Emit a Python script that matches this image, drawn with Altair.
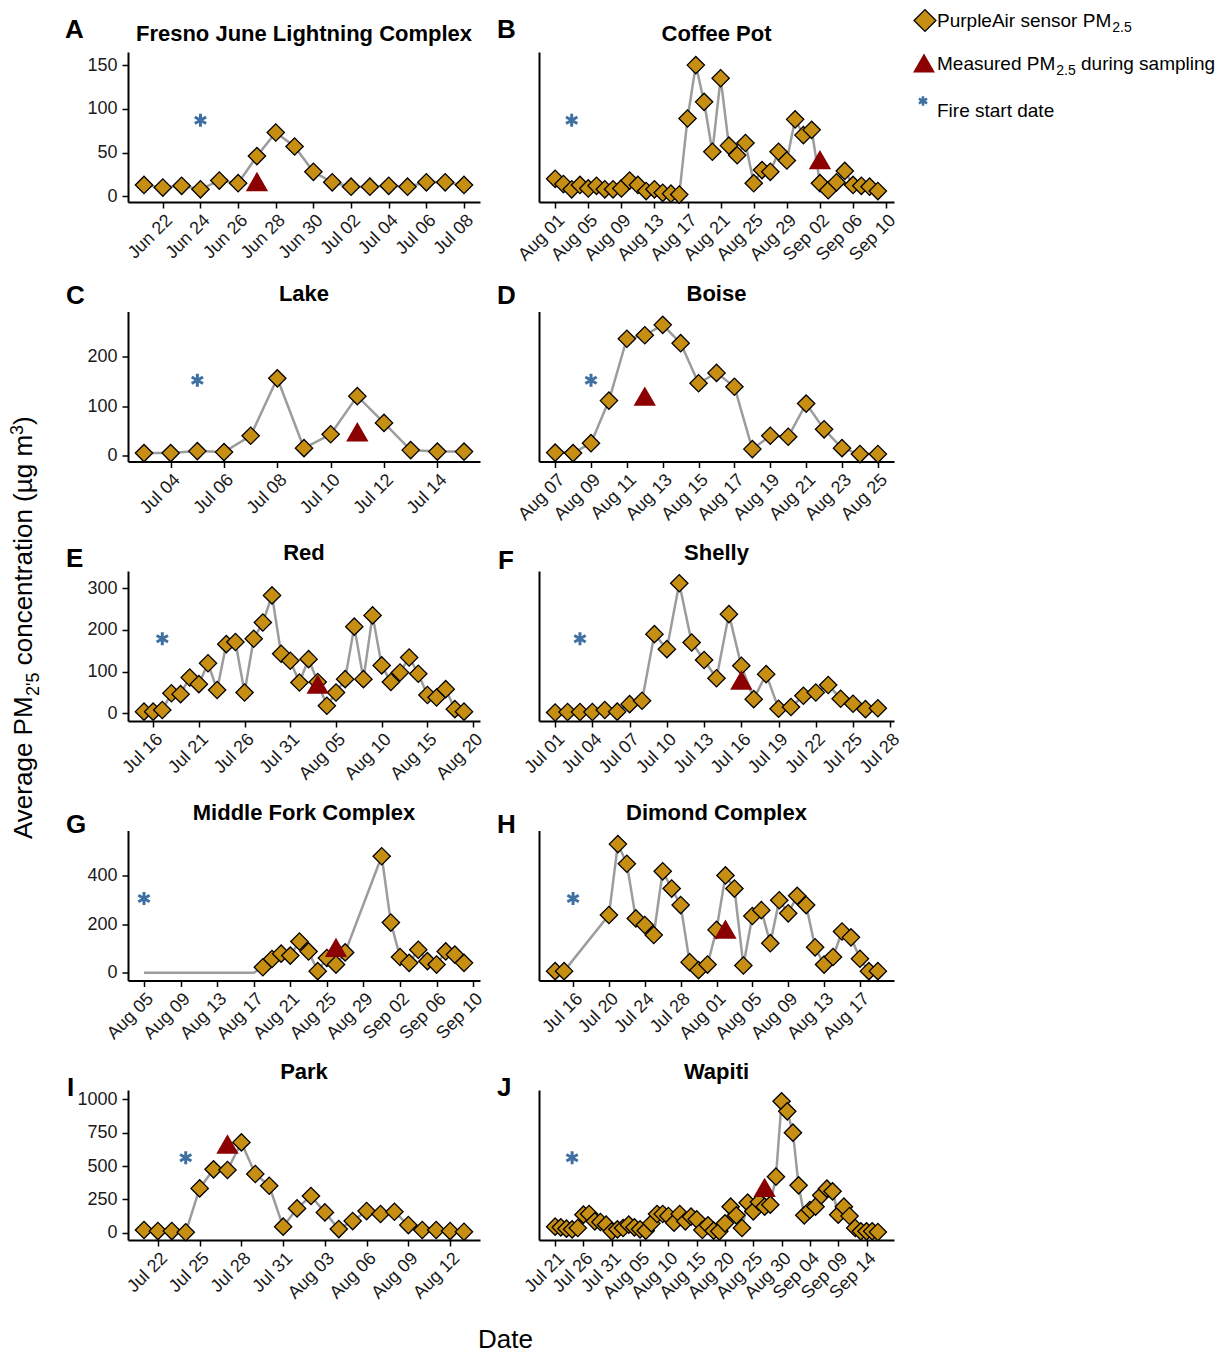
import altair as alt
import pandas as pd

FONT = "Liberation Sans"
GOLD = "#C68E12"
RED = "#8B0000"
BLUE = "#3F70A1"
GREY = "#9C9C9C"

# ---------------- data ----------------
titles = ["Fresno June Lightning Complex", "Coffee Pot", "Lake", "Boise", "Red",
          "Shelly", "Middle Fork Complex", "Dimond Complex", "Park", "Wapiti"]
letters = ["A", "B", "C", "D", "E", "F", "G", "H", "I", "J"]

A_start = "2021-06-21"
A_pm = [13, 10, 12, 8, 18, 15, 46, 73, 57, 28, 16, 11, 11, 12, 11, 16, 16, 13]
B_start = "2021-08-01"
B_pm = [20, 14, 8, 13, 9, 12, 8, 8, 9, 18, 13, 6, 8, 4, 3, 2, 89, 150, 108, 51,
        135, 58, 47, 61, 15, 30, 28, 51, 41, 88, 70, 76, 15, 7, 16, 29, 13, 12, 11, 6]
C_start = "2021-07-03"
C_pm = [5, 5, 9, 7, 40, 156, 15, 43, 120, 66, 11, 8, 8]
D_start = "2021-08-07"
D_pm = [6, 5, 25, 111, 236, 243, 264, 227, 146, 167, 139, 13, 40, 38, 105, 53, 15, 3, 3]
E_start = "2021-07-15"
E_pm = [4, 4, 8, 48, 46, 86, 70, 120, 56, 166, 171, 50, 179, 218, 283, 143, 126,
        74, 130, 75, 18, 50, 82, 208, 82, 235, 115, 75, 98, 134, 95, 44, 38, 58, 10, 4]
F_start = "2021-07-01"
F_pm = [2, 3, 3, 3, 8, 4, 22, 30, 190, 154, 312, 170, 128, 84, 238, 114, 34, 94,
        11, 15, 42, 50, 68, 35, 23, 10, 12]
G_flat_start = "2021-08-05"
G_flat = [0, 0, 0, 0, 0, 0, 0, 0, 0, 0, 0, 0, 0]
G_start = "2021-08-18"
G_pm = [23, 57, 79, 71, 129, 88, 7, 61, 34, 84, None, None, None,
        480, 207, 65, 41, 95, 48, 34, 88, 75, 41]
H_start = "2021-07-14"
H_pm = [7, 7, None, None, None, None, 238, 530, 449, 224, 197, 156, 418, 347, 279,
        44, 11, 34, 177, 401, 347, 30, 234, 258, 122, 299, 245, 317, 279, 105, 34,
        65, 170, 146, 58, 7, 7]
I_start = "2021-07-21"
I_pm = [20, 12, 12, 3, 332, 475, 470, 677, 440, 352, 45, 182, 275, 152, 27, 87,
        162, 140, 157, 57, 20, 20, 12, 7]
J_start = "2021-07-21"
J_pm = [45, 40, 30, 25, 35, 135, 140, 85, 80, 60, 10, 25, 35, 60, 40, 25, 15, 70,
        140, 140, 125, 75, 140, 85, 120, 100, 20, 55, 15, 10, 70, 195, 130, 35, 225,
        160, 230, 195, 210, 420, 985, 910, 750, 355, 130, 170, 195, 280, 330, 310,
        135, 195, 125, 35, 10, 10, 10, 5]

starts = [A_start, B_start, C_start, D_start, E_start, F_start, G_start, H_start, I_start, J_start]
series = [A_pm, B_pm, C_pm, D_pm, E_pm, F_pm, G_pm, H_pm, I_pm, J_pm]

meas_dates = ["2021-06-27", "2021-09-02", "2021-07-11", "2021-08-12", "2021-08-03",
              "2021-07-16", "2021-08-26", "2021-08-02", "2021-07-27", "2021-08-27"]
meas_vals = [17, 42, 48, 120, 70, 80, 105, 180, 665, 340]
fire_dates = ["2021-06-24", "2021-08-03", "2021-07-05", "2021-08-09", "2021-07-17",
              "2021-07-03", "2021-08-05", "2021-07-16", "2021-07-24", "2021-07-24"]
fire_vals = [87, 87, 152, 152, 179, 179, 306, 306, 562, 562]

x_ticks = [
    ["2021-06-22", "2021-06-24", "2021-06-26", "2021-06-28", "2021-06-30", "2021-07-02", "2021-07-04", "2021-07-06", "2021-07-08"],
    ["2021-08-01", "2021-08-05", "2021-08-09", "2021-08-13", "2021-08-17", "2021-08-21", "2021-08-25", "2021-08-29", "2021-09-02", "2021-09-06", "2021-09-10"],
    ["2021-07-04", "2021-07-06", "2021-07-08", "2021-07-10", "2021-07-12", "2021-07-14"],
    ["2021-08-07", "2021-08-09", "2021-08-11", "2021-08-13", "2021-08-15", "2021-08-17", "2021-08-19", "2021-08-21", "2021-08-23", "2021-08-25"],
    ["2021-07-16", "2021-07-21", "2021-07-26", "2021-07-31", "2021-08-05", "2021-08-10", "2021-08-15", "2021-08-20"],
    ["2021-07-01", "2021-07-04", "2021-07-07", "2021-07-10", "2021-07-13", "2021-07-16", "2021-07-19", "2021-07-22", "2021-07-25", "2021-07-28"],
    ["2021-08-05", "2021-08-09", "2021-08-13", "2021-08-17", "2021-08-21", "2021-08-25", "2021-08-29", "2021-09-02", "2021-09-06", "2021-09-10"],
    ["2021-07-16", "2021-07-20", "2021-07-24", "2021-07-28", "2021-08-01", "2021-08-05", "2021-08-09", "2021-08-13", "2021-08-17"],
    ["2021-07-22", "2021-07-25", "2021-07-28", "2021-07-31", "2021-08-03", "2021-08-06", "2021-08-09", "2021-08-12"],
    ["2021-07-21", "2021-07-26", "2021-07-31", "2021-08-05", "2021-08-10", "2021-08-15", "2021-08-20", "2021-08-25", "2021-08-30", "2021-09-04", "2021-09-09", "2021-09-14"],
]
y_ticks = [[0, 50, 100, 150], [0, 100, 200], [0, 100, 200, 300], [0, 200, 400], [0, 250, 500, 750, 1000]]
y_domains = [[-6.5, 165], [-12, 291], [-18.5, 341.5], [-31.6, 586], [-55, 1070]]

# ---------------- layout settings ----------------
W_LEFT, W_RIGHT, H = 352, 355, 150
letter_pos = [(-63, -14), (-42, -14), (-62, -8), (-42, -8), (-62, -4), (-41, -2),
              (-62, 2), (-42, 2), (-61, 6), (-42, 6)]
AST_PATH = "M0,-1L0,1M-0.87,-0.5L0.87,0.5M-0.87,0.5L0.87,-0.5"

AW = {'A': 667, 'v': 500, 'e': 556, 'r': 333, 'a': 556, 'g': 556, ' ': 278, 'P': 667,
      'M': 833, 'c': 500, 'o': 556, 'n': 556, 't': 278, 'i': 222, '(': 333, 'µ': 576,
      'm': 833, ')': 333, '2': 556, '5': 556, '3': 556, "'": 191, '.': 278, 'u': 556,
      'p': 556, 'l': 222, 's': 500, 'd': 556, 'F': 611, 'h': 556}


def tw(s, fs):
    return sum(AW.get(c, 556) for c in s) * fs / 1000.0


def ms(s):
    return int(pd.Timestamp(s, tz="UTC").value // 10**6)


def txt(s, x, y, size, weight="normal", align="left", angle=0):
    return alt.Chart(pd.DataFrame({"t": [s]})).mark_text(
        font=FONT, fontSize=size, fontWeight=weight, align=align,
        baseline="alphabetic", angle=angle, color="black"
    ).encode(x=alt.value(x), y=alt.value(y), text="t:N")


def sym(shape, x, y, size, filled=True, fill=None, stroke=None, sw=1.0):
    kw = dict(shape=shape, size=size, opacity=1, filled=filled, strokeWidth=sw)
    if fill:
        kw["fill"] = fill
    if stroke:
        kw["stroke"] = stroke
    return alt.Chart(pd.DataFrame({"a": [0]})).mark_point(**kw).encode(
        x=alt.value(x), y=alt.value(y))


panels = []
for i in range(10):
    row = i // 2
    left = (i % 2 == 0)
    width = W_LEFT if left else W_RIGHT
    start = pd.Timestamp(starts[i])
    vals = series[i]
    dates = [(start + pd.Timedelta(days=k)).strftime("%Y-%m-%d") for k in range(len(vals))]
    df = pd.DataFrame({"date": dates, "pm": vals}).dropna()
    line_df = df.copy()
    if i == 6:
        fs = pd.Timestamp(G_flat_start)
        fdates = [(fs + pd.Timedelta(days=k)).strftime("%Y-%m-%d") for k in range(len(G_flat))]
        line_df = pd.concat([pd.DataFrame({"date": fdates, "pm": G_flat}), df]).sort_values("date")
    d0 = min(line_df["date"])
    d1 = max(line_df["date"])
    span = ms(d1) - ms(d0)
    dom = [ms(d0) - 0.05 * span, ms(d1) + 0.05 * span]

    xaxis = alt.Axis(values=[ms(t) for t in x_ticks[i]],
                     labelExpr="utcFormat(datum.value, '%b %d')",
                     labelAngle=315, labelAlign="right", labelBaseline="top",
                     labelFont=FONT, labelFontSize=18, labelColor="#1a1a1a",
                     labelPadding=3, tickSize=6, tickWidth=1.5, tickColor="black",
                     domainColor="black", domainWidth=2, grid=False,
                     labelOverlap=False, labelBound=False, labelFlush=False)
    if left:
        yaxis = alt.Axis(values=y_ticks[row], format="d", labelFont=FONT, labelFontSize=18,
                         labelColor="#1a1a1a", labelPadding=5, tickSize=6, tickWidth=1.5,
                         tickColor="black", domainColor="black", domainWidth=2, grid=False)
    else:
        yaxis = alt.Axis(values=y_ticks[row], labels=False, ticks=False,
                         domainColor="black", domainWidth=2, grid=False)

    X = alt.X("date:T", scale=alt.Scale(type="utc", domain=dom, nice=False), axis=xaxis, title=None)
    Y = alt.Y("pm:Q", scale=alt.Scale(domain=y_domains[row], nice=False, zero=False), axis=yaxis, title=None)

    line = alt.Chart(line_df).mark_line(color=GREY, strokeWidth=2.5).encode(x=X, y=Y)
    pts = alt.Chart(df).mark_point(shape="diamond", filled=True, fill=GOLD, stroke="black",
                                   strokeWidth=1.3, size=300, opacity=1).encode(x=X, y=Y)
    tri = alt.Chart(pd.DataFrame({"date": [meas_dates[i]], "pm": [meas_vals[i]]})).mark_point(
        shape="triangle-up", filled=True, fill=RED, size=500, opacity=1, strokeWidth=0
    ).encode(x=X, y=Y)
    ast = alt.Chart(pd.DataFrame({"date": [fire_dates[i]], "pm": [fire_vals[i]]})).mark_point(
        shape=AST_PATH, filled=False, stroke=BLUE, strokeWidth=3, size=170, opacity=1
    ).encode(x=X, y=Y)

    layers = [line, pts, tri, ast,
              txt(titles[i], width / 2, -11, 22, weight="bold", align="center"),
              txt(letters[i], letter_pos[i][0], letter_pos[i][1], 26, weight="bold")]

    if i == 0:
        # corner anchor (white, invisible) so the canvas origin is fixed
        layers.append(alt.Chart(pd.DataFrame({"a": [0]})).mark_rule(color="white", strokeWidth=1).encode(
            x=alt.value(-127.5), x2=alt.value(-127), y=alt.value(-51.5)))
        # rotated y title built from pieces (sub/superscripts)
        F, S = 26, 18
        bx, y0 = -96, 787
        p1, p2, p3, p4, p5 = "Average PM", "2'5", "concentration (µg m", "3", ")"
        yy = y0
        layers.append(txt(p1, bx, yy, F, angle=270)); yy -= tw(p1, F)
        layers.append(txt(p2, bx + 7, yy, S, angle=270)); yy -= tw(p2, S) + tw(" ", F)
        layers.append(txt(p3, bx, yy, F, angle=270)); yy -= tw(p3, F)
        layers.append(txt(p4, bx - 9, yy, S, angle=270)); yy -= tw(p4, S)
        layers.append(txt(p5, bx, yy, F, angle=270))
    if i == 1:
        lx = 398
        layers.append(sym("diamond", 386, -31.5, 480, fill=GOLD, stroke="black", sw=1.3))
        layers.append(sym("triangle-up", 385, 11, 480, fill=RED, sw=0))
        layers.append(sym(AST_PATH, 384, 49, 90, filled=False, stroke=BLUE, sw=2.5))
        s1 = "PurpleAir sensor PM"
        layers.append(txt(s1, lx, -25, 19))
        layers.append(txt("2.5", lx + tw(s1, 19) + 1, -20.5, 14))
        s2 = "Measured PM"
        layers.append(txt(s2, lx, 18, 19))
        layers.append(txt("2.5", lx + tw(s2, 19) + 1, 22.5, 14))
        layers.append(txt("during sampling", lx + tw(s2, 19) + 1 + tw("2.5", 14) + tw(" ", 19), 18, 19))
        layers.append(txt("Fire start date", lx, 65, 19))
    if i == 8:
        layers.append(txt("Date", 377.5, 258, 26, align="center"))

    panels.append(alt.layer(*layers).properties(width=width, height=H))

chart = alt.concat(*panels, columns=2, spacing={"row": 109.5, "column": 59},
                   bounds="flush", align="each").properties(
    padding=0, background="white"
).configure_view(strokeWidth=0)

chart.save("out.html", embed_options={"renderer": "svg", "actions": False})
